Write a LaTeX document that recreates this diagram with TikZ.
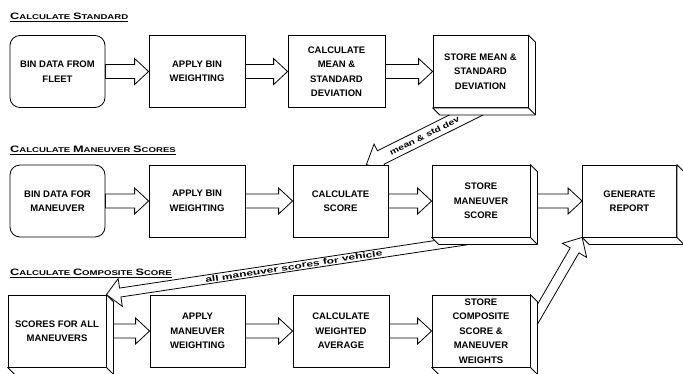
\documentclass[tikz,border=0pt]{standalone}
\usepackage{fontspec}
\setmainfont{Liberation Sans}
\usepackage{graphicx}
\usetikzlibrary{calc,backgrounds}
\tikzset{
 box/.style={draw, fill=white, line width=0.8pt, minimum width=95, minimum height=72, inner sep=0pt, align=center, font=\fontsize{9.5}{14.5}\selectfont\bfseries},
 rbox/.style={box, rounded corners=10pt},
 face/.style={draw, fill=white, line width=0.8pt, line join=round},
 arrowline/.style={draw, fill=white, line width=0.8pt, line join=miter},
 heading/.style={anchor=base west, inner sep=0pt, font=\fontsize{7}{10}\selectfont\bfseries},
 alabel/.style={sloped, inner sep=0pt, font=\fontsize{8}{8}\selectfont\bfseries},
}
\newcommand\boxbevel[1]{%
 \draw[face] (#1.north east) -- ++(7,7) -- ($(#1.south east)+(7,7)$) -- ($(#1.south west)+(7,7)$) -- (#1.south west) -- (#1.south east) -- cycle;
 \draw[line width=0.8pt] (#1.south east) -- ++(7,7);}
\newcommand\barrow[5]{%
 \coordinate (bah) at ($#2!#5!#1$);
 \draw[arrowline] ($#1!#3!90:#2$) -- ($(bah)!#3!90:#2$) -- ($(bah)!#4!90:#2$) -- #2 -- ($(bah)!#4!-90:#2$) -- ($(bah)!#3!-90:#2$) -- ($#1!#3!-90:#2$) -- cycle;}
\newcommand\hsc[2]{{\fontsize{9.3}{10}\selectfont #1}{\fontsize{7}{10}\selectfont #2}}
\begin{document}
\begin{tikzpicture}[x=1pt,y=-1pt]
\useasboundingbox (0,0) rectangle (683,373);
% headings
\node[heading] (h1) at (10,19) {\scalebox{1.37}[1]{\hsc{C}{ALCULATE} \hsc{S}{TANDARD}}};
\node[heading] (h2) at (10,152) {\scalebox{1.37}[1]{\hsc{C}{ALCULATE} \hsc{M}{ANEUVER} \hsc{S}{CORES}}};
\node[heading] (h3) at (10,275) {\scalebox{1.37}[1]{\hsc{C}{ALCULATE} \hsc{C}{OMPOSITE} \hsc{S}{CORE}}};
\foreach \h in {h1,h2,h3}{\draw[line width=0.6pt] ($(\h.base west)+(0,2)$) -- ($(\h.base east)+(0,2)$);}
% row 1
\node[rbox] (A1) at (57.5,71.5) {BIN DATA FROM\\FLEET};
\node[box, minimum width=96] (B1) at (197,71.5) {APPLY BIN\\WEIGHTING};
\node[box, minimum width=97] (C1) at (336.5,71.5) {CALCULATE\\MEAN \&\\STANDARD\\DEVIATION};
\node[box] (D1) at (480.5,71.5) {STORE MEAN \&\\STANDARD\\DEVIATION};
% row 2
\node[rbox] (A2) at (57.5,201) {BIN DATA FOR\\MANEUVER};
\node[box, minimum width=96] (B2) at (197,201) {APPLY BIN\\WEIGHTING};
\node[box] (C2) at (340.5,201) {CALCULATE\\SCORE};
\node[box, minimum width=98] (D2) at (481,201) {STORE\\MANEUVER\\SCORE};
\node[box, minimum width=94] (E2) at (629.5,201) {GENERATE\\REPORT};
% row 3
\node[box, minimum width=98] (A3) at (57,331) {SCORES FOR ALL\\MANEUVERS};
\node[box] (B3) at (197.5,331) {APPLY\\MANEUVER\\WEIGHTING};
\node[box, minimum width=96] (C3) at (341,331) {CALCULATE\\WEIGHTED\\AVERAGE};
\node[box, minimum width=98] (D3) at (481,331) {STORE\\COMPOSITE\\SCORE \&\\MANEUVER\\WEIGHTS};
% bevels
\foreach \b in {D1,D2,E2,A3,D3}{\boxbevel{\b}}
% connectors
\begin{pgfonlayer}{background}
\fill[white] (0,0) rectangle (683,373);
\coordinate (d2o) at ($(D2.east)+(7,0)$);
\coordinate (a3o) at ($(A3.east)+(7,0)$);
\barrow{(A1.east)}{(B1.west)}{7pt}{13pt}{14pt}
\barrow{(B1.east)}{(C1.west)}{7pt}{13pt}{14pt}
\barrow{(C1.east)}{(D1.west)}{7pt}{13pt}{14pt}
\barrow{(A2.east)}{(B2.west)}{7pt}{13pt}{14pt}
\barrow{(B2.east)}{(C2.west)}{7pt}{13pt}{14pt}
\barrow{(C2.east)}{(D2.west)}{7pt}{13pt}{14pt}
\barrow{(d2o)}{(E2.west)}{7pt}{13pt}{14pt}
\barrow{(a3o)}{(B3.west)}{7pt}{13pt}{14pt}
\barrow{(B3.east)}{(C3.west)}{7pt}{13pt}{14pt}
\barrow{(C3.east)}{(D3.west)}{7pt}{13pt}{14pt}
% diagonal arrows
\coordinate (t1) at ($(C2.north east)+(-22,0)$);
\coordinate (s1) at ($(D1.south)+(2,-1)$);
\barrow{(s1)}{(t1)}{7.5pt}{15pt}{16pt}
\path (t1) -- (s1) node[alabel, pos=0.5] {\scalebox{1.3}[1]{mean \& std dev}};
\coordinate (t2) at (A3.north east);
\coordinate (s2) at ($(D2.south east)+(2,-7)$);
\barrow{(s2)}{(t2)}{4.5pt}{14pt}{14pt}
\path (t2) -- (s2) node[alabel, pos=0.44] {\scalebox{1.5}[1]{all maneuver scores for vehicle}};
\coordinate (s3) at ($(D3.east)+(2,-8)$);
\barrow{(s3)}{(E2.south west)}{5pt}{14pt}{15pt}
\end{pgfonlayer}
\end{tikzpicture}
\end{document}
